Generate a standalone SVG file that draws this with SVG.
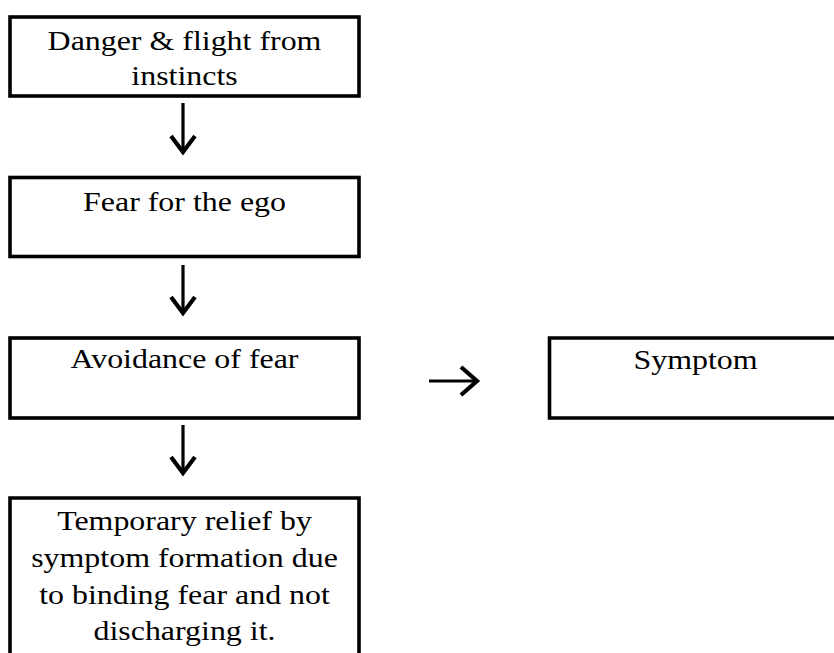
<svg xmlns="http://www.w3.org/2000/svg" width="834" height="653" viewBox="0 0 834 653">
<style>
.box{fill:#fff;stroke:#000;stroke-width:3.6}
.t{font-family:"Liberation Serif","Times New Roman",serif;font-size:28px;fill:#000;text-anchor:middle}
.ar{fill:none;stroke:#000;stroke-width:3.2}
.hd{fill:none;stroke:#000;stroke-width:4.2;stroke-linejoin:miter;stroke-miterlimit:10}
</style>
<rect width="834" height="653" fill="#fff"/>
<g id="n1"><rect class="box" x="10" y="17" width="349" height="79"/>
<g transform="translate(184.5 0) scale(1.14 1)">
<text class="t" x="0" y="50.5">Danger &amp; flight from</text>
<text class="t" x="0" y="85.5">instincts</text></g></g>
<g id="n2"><rect class="box" x="10" y="177.5" width="349" height="79"/>
<g transform="translate(184.5 0) scale(1.14 1)">
<text class="t" x="0" y="211">Fear for the ego</text></g></g>
<g id="n3"><rect class="box" x="10" y="338" width="349" height="80"/>
<g transform="translate(184.5 0) scale(1.14 1)">
<text class="t" x="0" y="368.5">Avoidance of fear</text></g></g>
<g id="n4"><path class="box" d="M10 660 V498 H359 V660"/>
<g transform="translate(184.5 0) scale(1.14 1)">
<text class="t" x="0" y="530.5">Temporary relief by</text>
<text class="t" x="0" y="567.5">symptom formation due</text>
<text class="t" x="0" y="604">to binding fear and not</text>
<text class="t" x="0" y="640">discharging it.</text></g></g>
<g id="n5"><path class="box" d="M840 338 H549.5 V418 H840"/>
<g transform="translate(695.5 0) scale(1.14 1)">
<text class="t" x="0" y="369">Symptom</text></g></g>
<g id="connectors">
<line class="ar" x1="183" y1="103" x2="183" y2="152"/>
<polyline class="hd" points="171,136 183,152 195,136"/>
<line class="ar" x1="183" y1="265" x2="183" y2="313"/>
<polyline class="hd" points="171,297 183,313 195,297"/>
<line class="ar" x1="183" y1="425" x2="183" y2="473"/>
<polyline class="hd" points="171,457 183,473 195,457"/>
<line class="ar" x1="429" y1="381" x2="477" y2="381"/>
<polyline class="hd" points="461,367 477,381 461,395"/>
</g>
</svg>
